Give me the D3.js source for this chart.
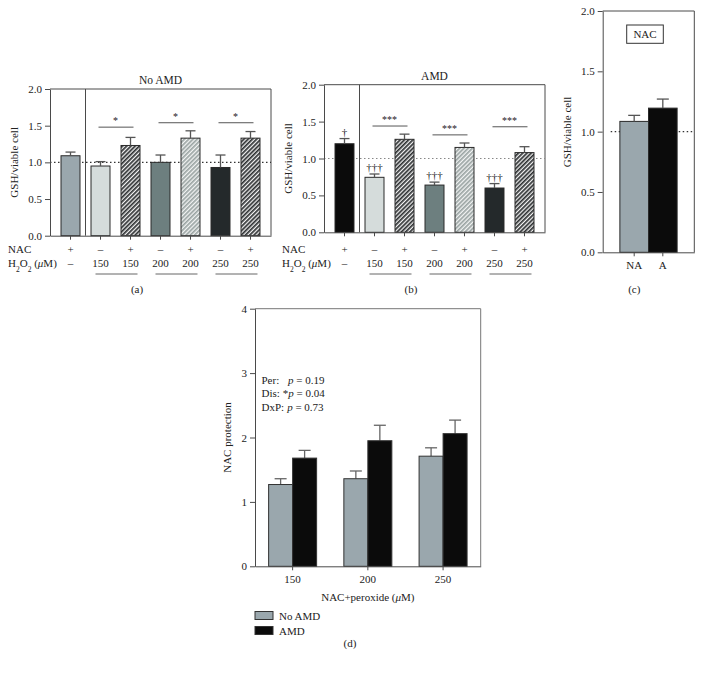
<!DOCTYPE html>
<html><head><meta charset="utf-8">
<script src="https://cdn.jsdelivr.net/npm/d3@7"></script>
<style>
body{margin:0;background:#fff;}
svg text{font-family:"Liberation Serif","DejaVu Serif",serif !important;fill:#222;}
</style></head>
<body><svg id="c" width="702" height="674" font-family="Liberation Serif"></svg>
<script>
// ---------- data ----------
const nacRow = ['+','–','+','–','+','–','+'];
const h2o2Row = ['–','150','150','200','200','250','250'];
const barStyle = ['first','c150','hdark','c200','hlight','c250','hdark'];
const noAMDVals = [1.09,0.95,1.23,1.00,1.33,0.93,1.33];
const noAMDErr  = [0.05,0.06,0.11,0.10,0.10,0.17,0.09];
const amdVals   = [1.20,0.745,1.26,0.64,1.15,0.60,1.08];
const amdErr    = [0.07,0.045,0.07,0.04,0.06,0.06,0.08];
const amdMarks  = ['†','†††','','†††','','†††',''];
const noAMDSig  = [{a:1,b:2,y:1.48,t:'*'},{a:3,b:4,y:1.54,t:'*'},{a:5,b:6,y:1.54,t:'*'}];
const amdSig    = [{a:1,b:2,y:1.44,t:'***'},{a:3,b:4,y:1.32,t:'***'},{a:5,b:6,y:1.43,t:'***'}];
const yTicks2   = [0,0.5,1.0,1.5,2.0];
const cCats = ['NA','A'];
const cVals = [1.085,1.195];
const cErr  = [0.05,0.075];
const dGroups = ['150','200','250'];
const dSeries = ['No AMD','AMD'];
const dNoAMD = [1.27,1.36,1.71];
const dNoAMDErr = [0.09,0.12,0.13];
const dAMD = [1.68,1.95,2.06];
const dAMDErr = [0.12,0.24,0.21];
const dTicks = [0,1,2,3,4];
const dStats = [['Per:','','p = 0.19'],['Dis:','*','p = 0.04'],['DxP:','','p = 0.73']];

// ---------- styles ----------
const FONT = '"Liberation Serif",serif';
const colors = {first:'#9aa7ad', c150:'#d5dcdb', c200:'#6d7f7f', c250:'#24292b', black:'#0b0b0b'};
const svg = d3.select('#c');
svg.append('rect').attr('width',702).attr('height',674).attr('fill','#fff');
const defs = svg.append('defs');
function hatch(id, bg, fg){
  const p = defs.append('pattern').attr('id',id).attr('patternUnits','userSpaceOnUse')
    .attr('width',3).attr('height',3).attr('patternTransform','rotate(45)');
  p.append('rect').attr('width',3).attr('height',3).attr('fill',bg);
  p.append('rect').attr('width',1.7).attr('height',3).attr('fill',fg);
}
hatch('hdark','#f2f2f2','#2e3133');
hatch('hlight','#f4f5f5','#9aa4a3');
const fillFor = (s, firstBlack) => s==='hdark' ? 'url(#hdark)' : s==='hlight' ? 'url(#hlight)' :
   (s==='first' ? (firstBlack ? colors.black : colors.first) : colors[s]);

const AX = '#4a4a4a';
function styleAxis(g){
  g.attr('font-family',FONT);
  g.selectAll('path,line').attr('stroke',AX).attr('stroke-width',1);
  g.selectAll('text').style('font-family',FONT).style('font-size','11px').attr('fill','#222');
}

function panel7(x0, x1, yBot, yTop, vals, errs, firstBlack, title, sig, marks, dotColor, letter){
  const x = d3.scaleBand().domain(d3.range(7)).range([x0,x1]).paddingInner(0.367).paddingOuter(0.367);
  const y = d3.scaleLinear().domain([0,2]).range([yBot,yTop]);
  const g = svg.append('g');
  g.append('path').attr('d',`M${x0},${yTop}H${x1}V${yBot}`).attr('fill','none').attr('stroke',AX);
  const sepX = x(0)+x.bandwidth()+ (x.step()-x.bandwidth())/2;
  g.append('line').attr('x1',sepX).attr('x2',sepX).attr('y1',yTop).attr('y2',yBot).attr('stroke',AX);
  g.append('line').attr('x1',x0).attr('x2',x1).attr('y1',y(1)).attr('y2',y(1))
    .attr('stroke',dotColor).attr('stroke-dasharray','1.5,2.5').attr('stroke-width',1.2);
  vals.forEach((v,i)=>{
    const cx = x(i)+x.bandwidth()/2;
    g.append('rect').attr('x',x(i)).attr('width',x.bandwidth()).attr('y',y(v)).attr('height',y(0)-y(v))
      .attr('fill',fillFor(barStyle[i],firstBlack)).attr('stroke','#2a2a2a').attr('stroke-width',1);
    const ye = y(v+errs[i]);
    g.append('line').attr('x1',cx).attr('x2',cx).attr('y1',y(v)).attr('y2',ye).attr('stroke','#555').attr('stroke-width',1.3);
    g.append('line').attr('x1',cx-5).attr('x2',cx+5).attr('y1',ye).attr('y2',ye).attr('stroke','#555').attr('stroke-width',1.3);
    if(marks && marks[i]) g.append('text').attr('x',cx).attr('y',ye-3).attr('text-anchor','middle')
      .style('font-size','11px').text(marks[i]);
  });
  styleAxis(g.append('g').attr('transform',`translate(${x0},0)`)
    .call(d3.axisLeft(y).tickValues(yTicks2).tickFormat(d3.format('.1f')).tickSize(5).tickSizeOuter(0)));
  styleAxis(g.append('g').attr('transform',`translate(0,${yBot})`)
    .call(d3.axisBottom(x).tickSize(4).tickSizeOuter(0).tickFormat('')));
  g.append('text').attr('x',(x0+x1)/2).attr('y',yTop-5).attr('text-anchor','middle').style('font-size','11.5px').text(title);
  sig.forEach(s=>{
    const a = x(s.a)+x.bandwidth()/2, b = x(s.b)+x.bandwidth()/2;
    g.append('line').attr('x1',a-2).attr('x2',b+3).attr('y1',y(s.y)).attr('y2',y(s.y)).attr('stroke','#555');
    g.append('text').attr('x',(a+b)/2).attr('y',y(s.y)-3).attr('text-anchor','middle').style('font-size','10px').attr('fill','#444').text(s.t);
  });
  nacRow.forEach((t,i)=>g.append('text').attr('x',x(i)+x.bandwidth()/2).attr('y',253).attr('text-anchor','middle').style('font-size','11px').text(t));
  h2o2Row.forEach((t,i)=>g.append('text').attr('x',x(i)+x.bandwidth()/2).attr('y',266.5).attr('text-anchor','middle').style('font-size','11px').text(t));
  const lx = x0-42;
  g.append('text').attr('x',lx).attr('y',253).style('font-size','11px').text('NAC');
  const ht = g.append('text').attr('x',lx).attr('y',266.5).style('font-size','11px');
  ht.append('tspan').text('H');
  ht.append('tspan').attr('baseline-shift','sub').style('font-size','7.5px').text('2');
  ht.append('tspan').text('O');
  ht.append('tspan').attr('baseline-shift','sub').style('font-size','7.5px').text('2');
  ht.append('tspan').text(' (');
  ht.append('tspan').style('font-style','italic').text('μ');
  ht.append('tspan').text('M)');
  [[1,2],[3,4],[5,6]].forEach(([a,b])=>{
    const ca = x(a)+x.bandwidth()/2, cb = x(b)+x.bandwidth()/2;
    g.append('line').attr('x1',ca-5).attr('x2',cb+7).attr('y1',274).attr('y2',274).attr('stroke','#666');
  });
  g.append('text').attr('transform',`translate(${x0-32},${(yTop+yBot)/2}) rotate(-90)`).attr('text-anchor','middle')
    .style('font-size','11px').text('GSH/viable cell');
  g.append('text').attr('x',x0+87).attr('y',293).attr('text-anchor','middle').style('font-size','11px').text(letter);
}

panel7(50,271,235.7,89,noAMDVals,noAMDErr,false,'No AMD',noAMDSig,null,'#333','(a)');
panel7(324,545,232.3,84.7,amdVals,amdErr,true,'AMD',amdSig,amdMarks,'#888','(b)');

// ---------- panel c ----------
(function(){
  const x0=602.7,x1=694.3,yB=252.3,yT=11;
  const x = d3.scaleBand().domain(cCats).range([x0,x1]).paddingInner(0).paddingOuter(0.6);
  const y = d3.scaleLinear().domain([0,2]).range([yB,yT]);
  const g = svg.append('g');
  g.append('path').attr('d',`M${x0},${yT}H${x1}V${yB}`).attr('fill','none').attr('stroke',AX);
  g.append('line').attr('x1',x0+8).attr('x2',x1).attr('y1',y(1)).attr('y2',y(1))
    .attr('stroke','#333').attr('stroke-dasharray','1.5,2.5').attr('stroke-width',1.2);
  const cf = [colors.first, colors.black];
  cCats.forEach((c,i)=>{
    const v=cVals[i], cx=x(c)+x.bandwidth()/2, ye=y(v+cErr[i]);
    g.append('rect').attr('x',x(c)).attr('width',x.bandwidth()).attr('y',y(v)).attr('height',y(0)-y(v))
      .attr('fill',cf[i]).attr('stroke','#2a2a2a');
    g.append('line').attr('x1',cx).attr('x2',cx).attr('y1',y(v)).attr('y2',ye).attr('stroke','#555').attr('stroke-width',1.3);
    g.append('line').attr('x1',cx-6).attr('x2',cx+6).attr('y1',ye).attr('y2',ye).attr('stroke','#555').attr('stroke-width',1.3);
  });
  styleAxis(g.append('g').attr('transform',`translate(${x0},0)`)
    .call(d3.axisLeft(y).tickValues(yTicks2).tickFormat(d3.format('.1f')).tickSize(5).tickSizeOuter(0)));
  styleAxis(g.append('g').attr('transform',`translate(0,${yB})`)
    .call(d3.axisBottom(x).tickSize(4).tickPadding(5).tickSizeOuter(0)));
  g.append('rect').attr('x',626.7).attr('y',25).attr('width',36.6).attr('height',18.3).attr('fill','#fff').attr('stroke','#333');
  g.append('text').attr('x',645).attr('y',38).attr('text-anchor','middle').style('font-size','11px').text('NAC');
  g.append('text').attr('transform',`translate(570.5,132) rotate(-90)`).attr('text-anchor','middle').style('font-size','11px').text('GSH/viable cell');
  g.append('text').attr('x',634.3).attr('y',292.5).attr('text-anchor','middle').style('font-size','11px').text('(c)');
})();

// ---------- panel d ----------
(function(){
  const x0=255,x1=480.7,yB=566.3,yT=308.7;
  const x = d3.scaleBand().domain(dGroups).range([x0,x1]).padding(0);
  const xs = d3.scaleBand().domain(dSeries).range([-24,24]).padding(0);
  const y = d3.scaleLinear().domain([0,4]).range([yB,yT]);
  const g = svg.append('g');
  g.append('path').attr('d',`M${x0},${yT}H${x1}V${yB}`).attr('fill','none').attr('stroke','#777');
  const series = [{name:'No AMD',v:dNoAMD,e:dNoAMDErr,f:colors.first},{name:'AMD',v:dAMD,e:dAMDErr,f:colors.black}];
  series.forEach(s=>{
    dGroups.forEach((grp,i)=>{
      const bx = x(grp)+x.bandwidth()/2+xs(s.name), w=xs.bandwidth(), v=s.v[i];
      const cx = bx+w/2, ye=y(v+s.e[i]);
      g.append('line').attr('x1',cx).attr('x2',cx).attr('y1',y(v)).attr('y2',ye).attr('stroke','#666').attr('stroke-width',1.3);
      g.append('line').attr('x1',cx-6).attr('x2',cx+6).attr('y1',ye).attr('y2',ye).attr('stroke','#666').attr('stroke-width',1.3);
      g.append('rect').attr('x',bx).attr('width',w).attr('y',y(v)).attr('height',y(0)-y(v))
        .attr('fill',s.f).attr('stroke','#333');
    });
  });
  styleAxis(g.append('g').attr('transform',`translate(${x0},0)`)
    .call(d3.axisLeft(y).tickValues(dTicks).tickFormat(d3.format('d')).tickSize(5).tickSizeOuter(0)));
  styleAxis(g.append('g').attr('transform',`translate(0,${yB})`)
    .call(d3.axisBottom(x).tickSize(4).tickPadding(5).tickSizeOuter(0)));
  g.append('text').attr('transform',`translate(230.5,${(yT+yB)/2}) rotate(-90)`).attr('text-anchor','middle').style('font-size','11px').text('NAC protection');
  const xl = g.append('text').attr('x',(x0+x1)/2).attr('y',601).attr('text-anchor','middle').style('font-size','11px');
  xl.append('tspan').text('NAC+peroxide (');
  xl.append('tspan').style('font-style','italic').text('μ');
  xl.append('tspan').text('M)');
  // annotations
  dStats.forEach((a,i)=>{
    const yy = 384+i*13.3;
    const lab = g.append('text').attr('x',261.5).attr('y',yy).style('font-size','11px').text(a[0]);
    const w = lab.node().getComputedTextLength();
    let px = Math.max(261.5 + w + 3, i===0 ? 288 : 0);
    if(a[1]){
      const st = g.append('text').attr('x',261.5+w+3).attr('y',yy).style('font-size','11px').text(a[1]);
      px = 261.5 + w + 3 + st.node().getComputedTextLength();
    }
    const t2 = g.append('text').attr('x',px).attr('y',yy).style('font-size','11px');
    t2.append('tspan').style('font-style','italic').text('p');
    t2.append('tspan').text(a[2].slice(1));
  });
  series.forEach((s,i)=>{
    g.append('rect').attr('x',255).attr('y',611.5+i*15).attr('width',18).attr('height',8).attr('fill',s.f).attr('stroke','#333');
    g.append('text').attr('x',279).attr('y',619.5+i*15).style('font-size','11px').text(s.name);
  });
  g.append('text').attr('x',350).attr('y',646.5).attr('text-anchor','middle').style('font-size','11px').text('(d)');
})();
</script></body></html>
